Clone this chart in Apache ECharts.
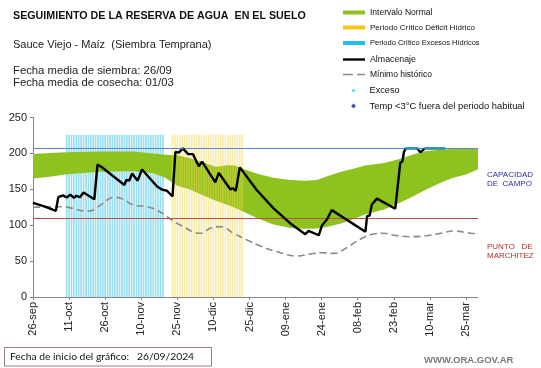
<!DOCTYPE html>
<html><head><meta charset="utf-8">
<script src="https://cdn.jsdelivr.net/npm/echarts@6/dist/echarts.min.js"></script>
<style>html,body{margin:0;padding:0;background:#fff}#c{width:541px;height:368px}</style>
</head><body><div id="c"></div>
<script>
// ---- data (days since 26-sep-2024) ----
const tickLabels = ['26-sep','11-oct','26-oct','10-nov','25-nov','10-dic','25-dic','09-ene','24-ene','08-feb','23-feb','10-mar','25-mar'];
const bandDays  = [0,7,14,28,42,50,55,60,65,70,76,81,84,88,94,100,107,113,118,122,128,132,138,146,152,158,163,169,174,180,185];
const bandLower = [165,167.5,171,174.5,175,172.5,166,155,150,142.5,134,128,124,118,108.5,101,96,95,95.5,97.5,102.5,107,115,122,130.5,140,149,158.5,165.5,170.5,178];
const bandUpper = [199,200.5,201.5,202.5,202.5,200,198,197.5,193.5,188.5,181.5,183.5,183,177.5,171,166,163,162,163,168,174.5,177.5,183,186.5,192,198.5,203,205,206,206,206];
const storageDays   = [0,5,9.5,10.5,12.5,14,15.5,17,18,19.5,21,25.5,26.8,28.5,38,38.8,40,41.2,43.5,45.3,51.6,53.4,55.7,58,59.2,60.6,62.3,64.5,66.5,68.9,70.3,75.8,77.2,82,83,84.3,86,93,100,107,113.2,114.6,116,118.8,120.2,121,122.2,123,124.2,138.2,138.9,139.9,140.9,143,150.6,152.7,153.6,154.2,155,159.7,161,163,171.4];
const storageValues = [131,126,120,139,141.5,138.5,142.5,138,141,139,145.5,136,184.5,181,156,163,162,172,162,177.5,154,150,148,140,202,201,207,199,199,182,188.5,159.5,173,150,151.5,148,180.5,149,123.5,102.5,87.5,92,90,86,100,98,108,108.5,121,91,113,113,129,137,123,187,189,202,207,207,201.5,207,207];
const minDays   = [0,8,12.7,16.4,21,23.8,28,33.5,37,41.8,47.4,51.6,55.7,61.2,69.6,73.7,77.9,83.4,89,94.5,102.8,109.8,115.3,120.2,125,130.6,136,141.6,145.8,150,156.9,163.8,169.4,174.9,180.5,185];
const minValues = [125,125.5,125.8,123.5,119.8,120,128,138.8,137,128,125.8,121,111.8,100.3,88.7,95.7,98,88.7,79.4,71,61.7,57,60,61.7,60.8,69,80.4,87.7,88.7,86,84,85.4,88.7,92,89.6,87.3];
const excessDays = [62,155,156,157,158,159,160,163,164,165,166,167,168,169,170,171];
const excessValue = 207;
const excessPeriod  = [14, 54];   // Periodo Crítico Excesos Hídricos (first, last day)
const deficitPeriod = [58, 87];   // Periodo Crítico Déficit Hídrico
const periodHeight = 226;
const fieldCapacity = 207;
const wiltingPoint = 110;

// ---- build ----
const zip = (a, b) => a.map((v, i) => [v, b[i]]);
const periodBars = p => { const r = []; for (let d = p[0]; d <= p[1]; d++) r.push([d, periodHeight]); return r; };
const bandData = bandDays.map((d, i) => [d, bandLower[i], bandUpper[i]]);
const FONT = '"Liberation Sans", Arial, sans-serif';

const chart = echarts.init(document.getElementById('c'), null, {renderer: 'canvas'});
const legendBase = (item, top, fs, extra) => Object.assign({
  data: [item], left: 343, top: top, padding: 0, itemWidth: 22, itemHeight: 4,
  selectedMode: false, symbolKeepAspect: true,
  textStyle: {fontSize: fs, color: '#111', fontFamily: FONT}
}, extra || {});

chart.setOption({
  animation: false,
  grid: {left: 33, right: 63, top: 117.5, bottom: 71, containLabel: false, outerBoundsMode: 'none'},
  xAxis: {
    type: 'value', min: 0, max: 185, interval: 15,
    axisLine: {lineStyle: {color: '#868686'}},
    axisTick: {show: true, length: 3, lineStyle: {color: '#868686'}},
    splitLine: {show: false},
    axisLabel: {rotate: 90, fontSize: 11, color: '#222', fontFamily: FONT, margin: 5, showMaxLabel: false,
      formatter: v => (v % 15 === 0 && tickLabels[v / 15]) ? tickLabels[v / 15] : ''}
  },
  yAxis: {
    type: 'value', min: 0, max: 250, interval: 50,
    name: 'Milímetros', nameLocation: 'middle', nameRotate: 90, nameGap: 27,
    nameTextStyle: {fontSize: 8, color: '#222', fontFamily: FONT},
    axisLine: {show: true, lineStyle: {color: '#868686'}},
    axisTick: {show: true, length: 3, lineStyle: {color: '#868686'}},
    splitLine: {show: false},
    axisLabel: {fontSize: 11, color: '#222', fontFamily: FONT, margin: 6}
  },
  legend: [
    legendBase({name: 'Intervalo Normal', icon: 'rect', itemStyle: {color: '#8dc21f'}}, 8, 8.5),
    legendBase({name: 'Periodo Crítico Déficit Hídrico', icon: 'rect', itemStyle: {color: '#f5c518', opacity: 1}}, 23.5, 8),
    legendBase({name: 'Periodo Crítico Excesos Hídricos', icon: 'rect', itemStyle: {color: '#1fbff0', opacity: 1}}, 39, 7.5),
    legendBase({name: 'Almacenaje', icon: 'rect', itemStyle: {color: '#000'}}, 55, 8.8, {itemHeight: 2.4}),
    legendBase({name: 'Mínimo histórico', icon: 'path://M0,0H10V1.6H0Z M14,0H22V1.6H14Z', itemStyle: {color: '#8a8a8a'}}, 70, 8.5, {itemHeight: 1.6}),
    legendBase({name: 'Exceso', icon: 'path://M0,-1A1,1,0,1,1,0,1A1,1,0,1,1,0,-1Z', itemStyle: {color: '#2ec8ee'}}, 86, 9.2, {itemHeight: 3, left: 352}),
    legendBase({name: 'Temp <3°C fuera del periodo habitual', icon: 'path://M0,-1L1,0L0,1L-1,0Z', itemStyle: {color: '#1c2a9e'}}, 101.5, 9.4,
      {itemHeight: 5, left: 351})
  ],
  series: [
    {name: 'Periodo Crítico Excesos Hídricos', type: 'bar', data: periodBars(excessPeriod), barWidth: 1.7, barGap: '-100%', z: 1,
      itemStyle: {color: 'rgba(31,185,220,0.45)'}},
    {name: 'Intervalo Normal', type: 'custom', data: bandData, z: 2, silent: true,
      encode: {x: 0, y: [1, 2]},
      itemStyle: {color: '#8dc21f'},
      renderItem: (params, api) => {
        if (params.dataIndex !== 0) return null;
        const up = bandData.map(r => api.coord([r[0], r[2]]));
        const lo = bandData.map(r => api.coord([r[0], r[1]])).reverse();
        return {type: 'polygon', shape: {points: up.concat(lo)}, style: {fill: '#8dc21f', stroke: null}};
      }},
    {name: 'Periodo Crítico Déficit Hídrico', type: 'bar', data: periodBars(deficitPeriod), barWidth: 1.7, barGap: '-100%', z: 3,
      itemStyle: {color: 'rgba(240,212,70,0.45)'}},
    {name: 'Mínimo histórico', type: 'line', data: zip(minDays, minValues), symbol: 'none', smooth: 0.4, z: 4,
      lineStyle: {color: '#8a8a8a', width: 1.6, type: [7, 4]}, itemStyle: {color: '#8a8a8a'},
      markLine: {silent: true, symbol: 'none', label: {show: false}, data: [
        {yAxis: fieldCapacity, lineStyle: {color: '#5b86d6', width: 1, type: 'solid'}},
        {yAxis: wiltingPoint, lineStyle: {color: '#b5504a', width: 1, type: 'solid'}}
      ]}},
    {name: 'Almacenaje', type: 'line', data: zip(storageDays, storageValues), symbol: 'none', z: 5,
      lineStyle: {color: '#000', width: 2.4}, itemStyle: {color: '#000'}},
    {name: 'Exceso', type: 'scatter', data: excessDays.map(d => [d, excessValue]), symbol: 'circle', symbolSize: 2.6, z: 6,
      itemStyle: {color: '#2ec8ee'}},
    {name: 'Temp <3°C fuera del periodo habitual', type: 'scatter', data: [], symbol: 'diamond', symbolSize: 5,
      itemStyle: {color: '#1c2a9e'}}
  ],
  graphic: [
    {type: 'text', style: {x: 13, y: 16, text: 'SEGUIMIENTO DE LA RESERVA DE AGUA  EN EL SUELO', font: 'bold 10.7px ' + FONT, fill: '#111', verticalAlign: 'middle'}},
    {type: 'text', style: {x: 13, y: 45, text: 'Sauce Viejo - Maíz  (Siembra Temprana)', font: '11px ' + FONT, fill: '#222', verticalAlign: 'middle'}},
    {type: 'text', style: {x: 13, y: 70.5, text: 'Fecha media de siembra: 26/09', font: '11.3px ' + FONT, fill: '#222', verticalAlign: 'middle'}},
    {type: 'text', style: {x: 13, y: 82.5, text: 'Fecha media de cosecha: 01/03', font: '11.3px ' + FONT, fill: '#222', verticalAlign: 'middle'}},
    {type: 'text', style: {x: 487, y: 170, text: 'CAPACIDAD\nDE  CAMPO', font: '8px ' + FONT, fill: '#2f2fa0', lineHeight: 9, verticalAlign: 'top'}},
    {type: 'text', style: {x: 487, y: 242, text: 'PUNTO   DE\nMARCHITEZ', font: '8px ' + FONT, fill: '#b03030', lineHeight: 9, verticalAlign: 'top'}},
    {type: 'rect', shape: {x: 4.5, y: 347.5, width: 207, height: 18.5}, style: {fill: '#fff', stroke: '#9a8080', lineWidth: 1}},
    {type: 'text', style: {x: 10, y: 357, text: 'Fecha de inicio del gráfico:', font: '10.3px Lato, "Open Sans", sans-serif', fill: '#111', verticalAlign: 'middle'}},
    {type: 'text', style: {x: 137, y: 357, text: '26/09/2024', font: '10.3px Lato, "Open Sans", sans-serif', fill: '#111', verticalAlign: 'middle'}},
    {type: 'text', style: {x: 424, y: 360.5, text: 'WWW.ORA.GOV.AR', font: 'bold 9.5px ' + FONT, fill: '#7a7a7a', verticalAlign: 'middle'}}
  ]
});
</script></body></html>
